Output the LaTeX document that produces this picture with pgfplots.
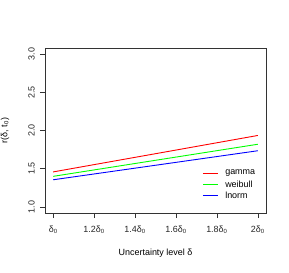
\documentclass[border=0pt]{standalone}
\usepackage{pgfplots}
\pgfplotsset{compat=1.18}
\usepackage{fontspec}
\setmainfont{Liberation Sans}
\begin{document}
\fontsize{9}{11}\selectfont
\begin{tikzpicture}
\path[use as bounding box] (-45bp,-60bp) rectangle (244bp,213bp);
\begin{axis}[
  scale only axis,
  width=221bp, height=165bp,
  xmin=0.96, xmax=2.04, ymin=0.92, ymax=3.08,
  axis line style={line width=0.7bp, black!80},
  tick align=outside,
  xtick pos=bottom, ytick pos=left,
  major tick length=5bp,
  tick style={line width=0.6bp, black!80},
  xtick={1,1.2,1.4,1.6,1.8,2},
  xticklabels={δ\textsubscript{0},1.2δ\textsubscript{0},1.4δ\textsubscript{0},1.6δ\textsubscript{0},1.8δ\textsubscript{0},2δ\textsubscript{0}},
  ytick={1,1.5,2,2.5,3},
  yticklabels={1.0,1.5,2.0,2.5,3.0},
  yticklabel style={rotate=90, anchor=south, inner sep=0pt, yshift=5bp},
  xticklabel style={anchor=north, inner sep=0pt, yshift=-8bp},
  ticklabel style={font=\fontsize{9}{11}\selectfont, text=black!85},
  xlabel={Uncertainty level δ},
  ylabel={r(δ, t\textsubscript{0})},
  label style={font=\fontsize{9}{11}\selectfont},
  xlabel style={at={(axis description cs:0.5,-0.242)}, anchor=center},
  ylabel style={at={(axis description cs:-0.181,0.5)}, anchor=center},
  clip=false,
]
\addplot[red, line width=0.9bp] coordinates {(1,1.458) (1.6,1.744) (2,1.935)};
\addplot[green, line width=0.9bp] coordinates {(1,1.400) (1.6,1.652) (2,1.820)};
\addplot[blue, line width=0.9bp] coordinates {(1,1.355) (1.6,1.583) (2,1.735)};
% legend
\addplot[red, line width=1.3bp] coordinates {(1.732,1.4371) (1.805,1.4371)};
\addplot[green, line width=1.3bp] coordinates {(1.732,1.2931) (1.805,1.2931)};
\addplot[blue, line width=1.3bp] coordinates {(1.732,1.1491) (1.805,1.1491)};
\node[anchor=west, inner sep=0pt] at (axis cs:1.840,1.4371) {gamma};
\node[anchor=west, inner sep=0pt] at (axis cs:1.840,1.2931) {weibull};
\node[anchor=west, inner sep=0pt] at (axis cs:1.840,1.1491) {lnorm};
\end{axis}
\end{tikzpicture}
\end{document}
